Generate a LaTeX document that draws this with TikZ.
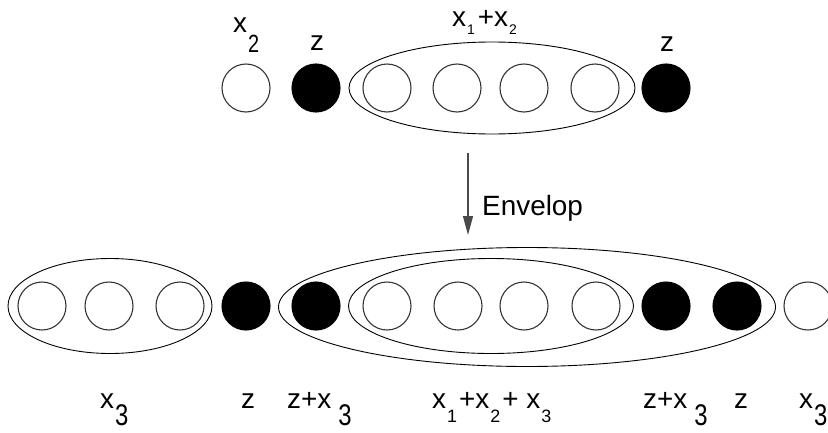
\documentclass[tikz,border=0pt]{standalone}
\usepackage{fontspec}
\setmainfont{Liberation Sans}
\usetikzlibrary{arrows.meta,shapes.geometric}
\definecolor{ringInk}{HTML}{333333}
\definecolor{arrowInk}{HTML}{4A4A4A}
% lowered subscript: drop, size, text
\newcommand{\lowsub}[3]{\kern1bp\raisebox{-#1bp}{\fontsize{#2}{#2}\selectfont #3}}
% tall lowered subscript, stretched upwards like the drawing's digits
\newcommand{\tallsub}[3]{\kern1bp\raisebox{-#1bp}{\scalebox{1}[1.25]{\fontsize{#2}{#2}\selectfont #3}}}
\tikzset{
  >=Latex,
  cellW/.style={circle,draw=ringInk,line width=1.1pt,fill=white,
                minimum size=48bp,inner sep=0pt},
  cellZ/.style={circle,draw=black,line width=1.1pt,fill=black,
                minimum size=48bp,inner sep=0pt},
  grp/.style={ellipse,draw=black,line width=0.9pt,inner sep=0pt},
  lblTop/.style={anchor=base west,inner sep=0pt,font=\fontsize{28}{30}\selectfont},
  lblBot/.style={anchor=base west,inner sep=0pt,font=\fontsize{28}{30}\selectfont},
  envFlow/.style={-{Triangle[length=19bp,width=10bp]},line width=1.3pt,arrowInk},
}

\begin{document}
\begin{tikzpicture}[x=1bp,y=1bp]
\useasboundingbox (0,0) rectangle (828,432);

% Upper row before enveloping.
\foreach \xc/\k [count=\i] in {246/W,316/Z,387/W,457/W,524/W,595/W,666/Z} {
  \node[cell\k] (t\i) at (\xc,344) {};
}
\node[grp,minimum width=286bp,minimum height=92bp] (grpTop) at (492,344) {};

\node[lblTop] (lblX2)   at (233,399) {x\tallsub{20}{20}{2}};
\node[lblTop] (lblZa)   at (310,382) {z};
\node[lblTop] (lblX12)  at (452,405) {x\lowsub{8}{14}{1}\kern3bp +x\lowsub{8}{14}{2}};
\node[lblTop] (lblZb)   at (660,381) {z};

% Envelop step.
\coordinate (envStart) at (468,279);
\coordinate (envEnd)   at (468,197);
\draw[envFlow] (envStart) -- (envEnd);
\node[anchor=base west,inner sep=0pt,font=\fontsize{28}{30}\selectfont]
  (envLbl) at (482,217) {Envelop};

% Lower row after enveloping.
\foreach \xc/\k [count=\i] in {42/W,109/W,180/W,246/Z,316/Z,387/W,458/W,524/W,596/W,666/Z,737/Z,808/W} {
  \node[cell\k] (b\i) at (\xc,126) {};
}
\node[grp,minimum width=204bp,minimum height=95bp] (grpLeft)  at (110,126) {};
\node[grp,minimum width=285bp,minimum height=95bp] (grpInner) at (491,126) {};
\node[grp,minimum width=497bp,minimum height=119bp] (grpOuter) at (527,125) {};

\node[lblBot] (lblX3a)  at (100,24) {x\tallsub{17}{24}{3}};
\node[lblBot] (lblZc)   at (241,24) {z};
\node[lblBot] (lblZX3a) at (287,24) {z+x\kern6bp\tallsub{17}{24}{3}};
\node[lblBot] (lblX123) at (432,24) {x\lowsub{14}{18}{1}\kern2bp +x\lowsub{14}{18}{2}\kern2bp + x\lowsub{14}{18}{3}};
\node[lblBot] (lblZX3b) at (643,24) {z+x\kern6bp\tallsub{17}{24}{3}};
\node[lblBot] (lblZd)   at (734,24) {z};
\node[lblBot] (lblX3b)  at (799,24) {x\tallsub{17}{24}{3}};

\end{tikzpicture}
\end{document}
